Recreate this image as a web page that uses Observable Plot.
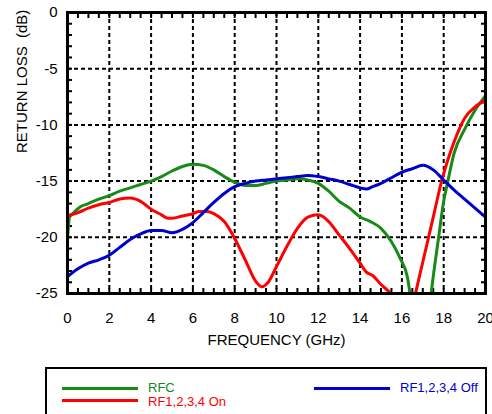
<!DOCTYPE html>
<html>
<head>
<meta charset="utf-8">
<script src="https://cdn.jsdelivr.net/npm/d3@7"></script>
<script src="https://cdn.jsdelivr.net/npm/@observablehq/plot@0.6"></script>
<style>
  body { margin: 0; background: #fff; font-family: "Liberation Sans", Arial, sans-serif; }
  #wrap { position: relative; width: 492px; height: 414px; overflow: hidden; }
  #legend { position: absolute; left: 45px; top: 367px; width: 442px; height: 70px; border: 2px solid #000; box-sizing: border-box; }
  .sw { position: absolute; width: 76px; height: 3px; }
  .lb { position: absolute; font-size: 13px; line-height: 13px; white-space: nowrap; }
</style>
</head>
<body>
<div id="wrap">
  <div id="chart"></div>
  <div id="legend"></div>
</div>
<script>
const GREEN = "#178a17", RED = "#ff0000", BLUE = "#0000cc";

const seriesNames = ["RFC", "RF1,2,3,4 On", "RF1,2,3,4 Off"];

const rfcFreq = [0, 0.1, 0.3, 0.6, 1.0, 1.5, 2.0, 2.5, 3.0, 3.5, 4.0, 4.5, 5.0, 5.5, 6.0, 6.5, 7.0, 7.5, 8.0, 8.5, 9.0, 9.5, 10.0, 10.5, 11.0, 11.5, 12.0, 12.5, 13.0, 13.5, 14.0, 14.5, 15.0, 15.5, 15.9, 16.27, 16.6, 16.9, 17.2, 17.4, 17.75, 18.0, 18.2, 18.5, 19.0, 19.5, 20.0];
const rfcLoss = [-20.2, -18.2, -17.8, -17.3, -17.0, -16.6, -16.3, -15.9, -15.6, -15.3, -15.0, -14.6, -14.1, -13.7, -13.5, -13.6, -14.0, -14.6, -15.1, -15.4, -15.4, -15.2, -15.0, -14.9, -14.8, -14.9, -15.2, -15.9, -16.8, -17.4, -18.2, -18.6, -19.2, -20.4, -21.8, -23.6, -28, -31, -28.5, -25.0, -20.1, -16.8, -15.0, -12.5, -10.4, -8.7, -7.4];

const onFreq = [0, 0.5, 1.0, 1.5, 2.0, 2.5, 3.0, 3.5, 4.0, 4.5, 4.8, 5.0, 5.5, 6.0, 6.3, 6.7, 7.0, 7.5, 8.0, 8.5, 9.0, 9.3, 9.6, 10.0, 10.5, 11.0, 11.5, 12.0, 12.5, 13.0, 13.5, 14.0, 14.3, 14.6, 15.0, 15.45, 16.0, 16.3, 16.65, 17.0, 17.5, 17.9, 18.2, 18.5, 19.0, 19.5, 20.0];
const onLoss = [-18.1, -17.8, -17.4, -17.1, -16.9, -16.6, -16.5, -16.8, -17.5, -18.0, -18.3, -18.3, -18.1, -17.9, -17.7, -17.7, -17.9, -18.6, -20.1, -22.0, -23.9, -24.4, -24.0, -22.6, -20.8, -19.2, -18.2, -18.0, -18.6, -19.8, -21.0, -22.3, -23.1, -23.4, -24.2, -25.0, -26.8, -28.0, -25.0, -22.2, -18.2, -15.0, -13.1, -11.5, -9.4, -8.4, -7.8];

const offFreq = [0, 0.5, 1.0, 1.5, 2.0, 2.5, 3.0, 3.5, 4.0, 4.5, 5.0, 5.5, 6.0, 6.5, 7.0, 7.5, 8.0, 8.5, 9.0, 9.5, 10.0, 10.5, 11.0, 11.5, 12.0, 12.5, 13.0, 13.5, 14.0, 14.3, 14.6, 15.0, 15.5, 16.0, 16.5, 17.0, 17.5, 18.0, 18.5, 19.0, 19.5, 20.0];
const offLoss = [-23.5, -22.8, -22.3, -22.0, -21.6, -20.9, -20.2, -19.7, -19.4, -19.4, -19.6, -19.3, -18.7, -17.8, -16.9, -16.1, -15.5, -15.2, -15.0, -14.9, -14.8, -14.7, -14.6, -14.5, -14.6, -14.8, -15.0, -15.3, -15.6, -15.7, -15.5, -15.2, -14.7, -14.2, -13.9, -13.6, -14.0, -14.9, -15.8, -16.6, -17.4, -18.2];

const xTicks = [0, 2, 4, 6, 8, 10, 12, 14, 16, 18, 20];
const yTicks = [0, -5, -10, -15, -20, -25];
const xGrid = [2, 4, 6, 8, 10, 12, 14, 16, 18];
const yGrid = [-5, -10, -15, -20];
const xMinor = d3.range(0, 20.01, 0.5);
const yMinor = d3.range(-25, 0.01, 1);

const toRows = (fs, ls) => fs.map((f, i) => ({f, v: ls[i]}));
const rfc = toRows(rfcFreq, rfcLoss);
const on = toRows(onFreq, onLoss);
const off = toRows(offFreq, offLoss);

const chart = Plot.plot({
  width: 492,
  height: 360,
  marginLeft: 67,
  marginRight: 7,
  marginTop: 12,
  marginBottom: 67,
  style: {fontFamily: "'Liberation Sans', Arial, sans-serif", fontSize: "15px", color: "#000", background: "#fff", overflow: "visible"},
  x: {domain: [0, 20]},
  y: {domain: [-25, 0]},
  marks: [
    Plot.gridX(xGrid, {stroke: "#000", strokeOpacity: 1, strokeWidth: 2, strokeDasharray: "4,3"}),
    Plot.gridY(yGrid, {stroke: "#000", strokeOpacity: 1, strokeWidth: 2, strokeDasharray: "4,3"}),
    Plot.axisX(xMinor, {anchor: "bottom", tickSize: 5, dy: -5, strokeWidth: 2, tickFormat: () => "", label: null}),
    Plot.axisX(xMinor, {anchor: "top", tickSize: 5, dy: 5, strokeWidth: 2, tickFormat: () => "", label: null}),
    Plot.axisY(yMinor, {anchor: "left", tickSize: 5, dx: 5, strokeWidth: 2, tickFormat: () => "", label: null}),
    Plot.axisY(yMinor, {anchor: "right", tickSize: 5, dx: -5, strokeWidth: 2, tickFormat: () => "", label: null}),
    Plot.axisX(xTicks, {anchor: "bottom", tickSize: 0, tickPadding: 19, label: null, fontSize: 15, tickFormat: (d) => String(d)}),
    Plot.axisY(yTicks, {anchor: "left", tickSize: 0, tickPadding: 10, label: null, fontSize: 15, tickFormat: (d) => String(d)}),
    Plot.line(rfc, {x: "f", y: "v", stroke: GREEN, strokeWidth: 3, curve: "monotone-x", clip: true}),
    Plot.line(on, {x: "f", y: "v", stroke: RED, strokeWidth: 3, curve: "monotone-x", clip: true}),
    Plot.line(off, {x: "f", y: "v", stroke: BLUE, strokeWidth: 3, curve: "monotone-x", clip: true}),
    Plot.frame({stroke: "#000", strokeWidth: 3}),
    Plot.text(["FREQUENCY (GHz)"], {frameAnchor: "bottom", dy: 51, fontSize: 15, fill: "#000"}),
    Plot.text(["RETURN LOSS\u00a0 (dB)"], {frameAnchor: "left", dx: -45, rotate: -90, fontSize: 15, fill: "#000"})
  ]
});
document.getElementById("chart").appendChild(chart);

// Legend
const legendItems = [
  {name: seriesNames[0], color: GREEN, left: 15, y: 19, ty: 18},
  {name: seriesNames[1], color: RED, left: 15, y: 31, ty: 32},
  {name: seriesNames[2], color: BLUE, left: 267, y: 19, ty: 18}
];
const legend = document.getElementById("legend");
for (const it of legendItems) {
  const sw = document.createElement("div");
  sw.className = "sw";
  sw.style.left = it.left + "px";
  sw.style.top = (it.y - 1.5) + "px";
  sw.style.background = it.color;
  legend.appendChild(sw);
  const lb = document.createElement("div");
  lb.className = "lb";
  lb.style.left = (it.left + 86) + "px";
  lb.style.top = (it.ty - 6.5) + "px";
  lb.style.color = it.color;
  lb.textContent = it.name;
  legend.appendChild(lb);
}
</script>
</body>
</html>
